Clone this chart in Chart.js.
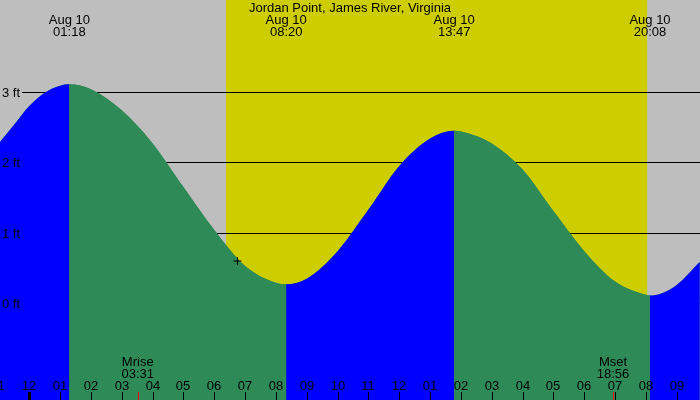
<!DOCTYPE html>
<html>
<head>
<meta charset="utf-8">
<title>Jordan Point, James River, Virginia</title>
<script src="https://cdn.jsdelivr.net/npm/chart.js@4"></script>
<style>
  html, body { margin: 0; padding: 0; background: #bebebe; }
  #tide { display: block; }
</style>
</head>
<body>
<canvas id="tide" width="700" height="400"></canvas>
<script>
/* === DATA (hours from midnight Aug 10, heights in ft) === */
const titleText = 'Jordan Point, James River, Virginia';

const tideHours = [-0.95, -0.5, 0, 0.5, 1.0, 1.30,
                   2, 3, 4, 5, 6, 7, 8, 8.33,
                   9, 10, 11, 12, 13, 13.78,
                   14, 15, 16, 17, 18, 19, 20, 20.13,
                   20.5, 21, 21.75];
const tideFeet  = [2.29, 2.53, 2.80, 2.99, 3.09, 3.11,
                   3.04, 2.74, 2.27, 1.65, 1.04, 0.53, 0.29, 0.27,
                   0.35, 0.74, 1.33, 1.95, 2.34, 2.45,
                   2.44, 2.27, 1.90, 1.31, 0.74, 0.31, 0.12, 0.11,
                   0.14, 0.26, 0.59];

const extremeHours = [1.30, 8.333, 13.783, 20.133];
const extremeDates = ['Aug 10', 'Aug 10', 'Aug 10', 'Aug 10'];
const extremeTimes = ['01:18', '08:20', '13:47', '20:08'];

const moonHours = [3.517, 18.933];
const moonNames = ['Mrise', 'Mset'];
const moonTimes = ['03:31', '18:56'];

const sunriseHour = 6.38;
const sunsetHour = 20.04;

const nowHour = 6.75;
const nowFeet = 0.60;

const feetTicks = [0, 1, 2, 3];
const feetLabels = ['0 ft', '1 ft', '2 ft', '3 ft'];

const hourTicks = [-1, 0, 1, 2, 3, 4, 5, 6, 7, 8, 9, 10, 11, 12, 13, 14, 15, 16, 17, 18, 19, 20, 21];
const hourLabels = ['11', '12', '01', '02', '03', '04', '05', '06', '07', '08', '09', '10',
                    '11', '12', '01', '02', '03', '04', '05', '06', '07', '08', '09'];

/* === COLOURS === */
const NIGHT = '#bebebe';
const DAY = '#cdcd00';
const RISING = '#0000ff';
const FALLING = '#2e8b57';
const FONT = '13px "Liberation Sans", Arial, sans-serif';

/* === BACKGROUND: night / daylight === */
const skyPlugin = {
    id: 'sky',
    beforeDraw(chart) {
        const { ctx, chartArea: a, scales: { x } } = chart;
        ctx.save();
        ctx.fillStyle = NIGHT;
        ctx.fillRect(a.left, a.top, a.right - a.left, a.bottom - a.top);
        const x0 = x.getPixelForValue(sunriseHour);
        const x1 = x.getPixelForValue(sunsetHour);
        ctx.fillStyle = DAY;
        ctx.fillRect(x0, a.top, x1 - x0, a.bottom - a.top);
        ctx.restore();
    }
};

/* === FOOT LINES (under the water) === */
const feetLinesPlugin = {
    id: 'feetLines',
    beforeDatasetsDraw(chart) {
        const { ctx, chartArea: a, scales: { y } } = chart;
        ctx.save();
        ctx.strokeStyle = '#000';
        ctx.lineWidth = 1;
        feetTicks.forEach(f => {
            const py = Math.round(y.getPixelForValue(f)) + 0.5;
            ctx.beginPath();
            ctx.moveTo(a.left + 22, py);
            ctx.lineTo(a.right, py);
            ctx.stroke();
        });
        ctx.restore();
    }
};

/* === TEXT AND TICKS (on top) === */
const labelsPlugin = {
    id: 'labels',
    afterDatasetsDraw(chart) {
        const { ctx, chartArea: a, scales: { x, y } } = chart;
        ctx.save();
        ctx.font = FONT;
        ctx.fillStyle = '#000';
        ctx.textBaseline = 'alphabetic';

        // feet labels
        ctx.textAlign = 'left';
        feetTicks.forEach((f, i) => {
            ctx.fillText(feetLabels[i], a.left + 2, y.getPixelForValue(f) + 5);
        });

        // title
        ctx.textAlign = 'center';
        ctx.fillText(titleText, (a.left + a.right) / 2, 12);

        // high / low times
        extremeHours.forEach((h, i) => {
            const px = x.getPixelForValue(h);
            ctx.fillText(extremeDates[i], px, 24);
            ctx.fillText(extremeTimes[i], px, 36);
        });

        // moon rise / set
        moonHours.forEach((h, i) => {
            const px = x.getPixelForValue(h);
            ctx.fillText(moonNames[i], px, 366);
            ctx.fillText(moonTimes[i], px, 378);
        });

        // hour ticks
        hourTicks.forEach((h, i) => {
            const px = Math.round(x.getPixelForValue(h));
            ctx.fillText(hourLabels[i], px, 390);
            const w = (h % 24 === 0) ? 3 : 1;
            ctx.fillRect(px - Math.floor(w / 2), a.bottom - 8, w, 8);
        });

        // moon ticks
        ctx.fillStyle = '#ff0000';
        moonHours.forEach(h => {
            const px = Math.round(x.getPixelForValue(h));
            ctx.fillRect(px, a.bottom - 8, 1, 8);
        });
        ctx.restore();
    }
};

/* === CHART === */
const tidePoints = tideHours.map((h, i) => ({ x: h, y: tideFeet[i] }));

new Chart(document.getElementById('tide'), {
    type: 'line',
    data: {
        datasets: [{
            // "now" marker
            type: 'scatter',
            data: [{ x: nowHour, y: nowFeet }],
            pointStyle: 'cross',
            pointRadius: 4,
            borderColor: '#000',
            borderWidth: 1,
            order: 0
        }, {
            // rising = blue, falling = green
            data: tidePoints,
            cubicInterpolationMode: 'monotone',
            fill: 'start',
            borderWidth: 0,
            borderColor: 'rgba(0,0,0,0)',
            backgroundColor: FALLING,
            pointRadius: 0,
            segment: {
                backgroundColor: ctx => ctx.p1.parsed.y >= ctx.p0.parsed.y ? RISING : FALLING
            },
            order: 1
        }, {
            // solid underlay so the colour joins show no seam
            data: tidePoints,
            cubicInterpolationMode: 'monotone',
            fill: 'start',
            borderWidth: 0,
            borderColor: 'rgba(0,0,0,0)',
            backgroundColor: FALLING,
            pointRadius: 0,
            order: 2
        }]
    },
    options: {
        responsive: false,
        animation: false,
        devicePixelRatio: 1,
        layout: { padding: 0, autoPadding: false },
        plugins: {
            legend: { display: false },
            tooltip: { enabled: false },
            title: { display: false }
        },
        scales: {
            x: { type: 'linear', min: -0.95, max: 21.755, display: false },
            y: { type: 'linear', min: -1.373, max: 4.306, display: false }
        }
    },
    plugins: [skyPlugin, feetLinesPlugin, labelsPlugin]
});
</script>
</body>
</html>
